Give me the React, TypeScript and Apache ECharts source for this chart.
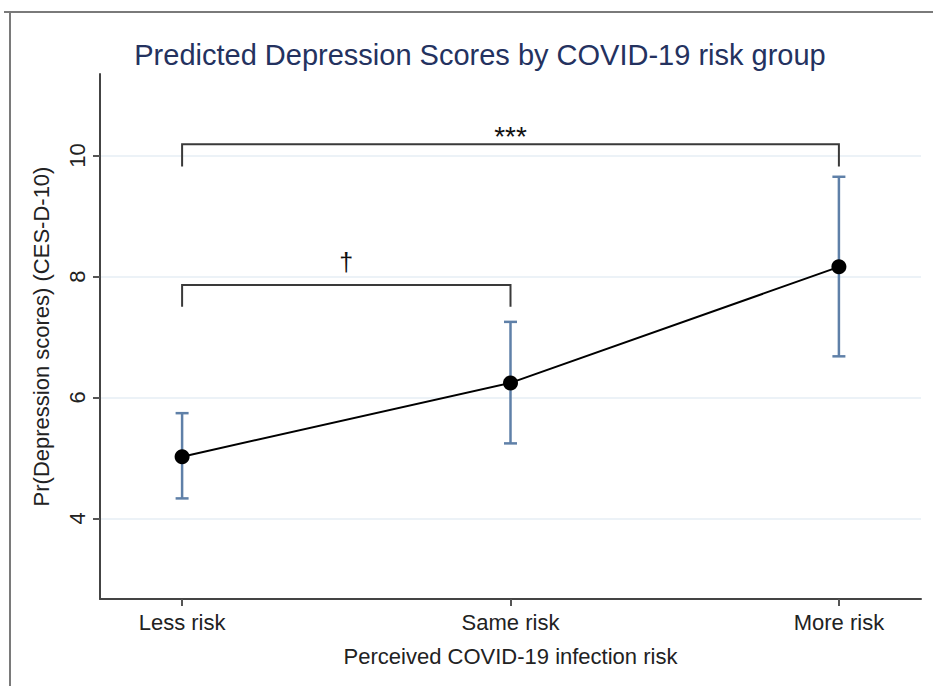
import React, { useEffect, useRef } from "react";
import * as echarts from "echarts";

const categories = ["Less risk", "Same risk", "More risk"];
const categoryPositions = [1, 2, 3];
const predicted = [5.02, 6.24, 8.16];
const ciLower = [4.33, 5.24, 6.68];
const ciUpper = [5.74, 7.25, 9.65];
const yTicks = [4, 6, 8, 10];
// brackets: [fromX, toX, barY, legY]
const brackets = [
  [1, 3, 10.19, 9.82],
  [1, 2, 7.86, 7.5],
];
const bracketLabels = ["***", "\u2020"];
const bracketLabelY = [10.31, 8.235];

const FONT = '"Liberation Sans", Arial, Helvetica, sans-serif';

export default function App() {
  const ref = useRef<HTMLDivElement>(null);
  useEffect(() => {
    if (!ref.current) return;
    const chart = echarts.init(ref.current, undefined, { renderer: "svg" });
    const errData = categoryPositions.map((x, i) => [x, ciLower[i], ciUpper[i]]);
    const bracketData = brackets.map((b, i) => [b[0], b[1], b[2], b[3], bracketLabelY[i], i]);
    const errColor = "#5f80a8";
    chart.setOption({
      animation: false,
      backgroundColor: "#ffffff",
      textStyle: { fontFamily: FONT },
      title: {
        text: "Predicted Depression Scores by COVID-19 risk group",
        left: 475,
        top: 35,
        textAlign: "center",
        textStyle: { fontFamily: FONT, fontSize: 29, fontWeight: "normal", color: "#24325f" },
      },
      graphic: [
        { type: "line", shape: { x1: 4, y1: 12, x2: 933, y2: 12 }, style: { stroke: "#7a7a7a", lineWidth: 2 } },
        { type: "line", shape: { x1: 10, y1: 12, x2: 10, y2: 686 }, style: { stroke: "#7a7a7a", lineWidth: 2 } },
      ],
      grid: { left: 100, width: 821, top: 74, height: 525, containLabel: false },
      xAxis: {
        type: "value",
        min: 0.75,
        max: 3.25,
        name: "Perceived COVID-19 infection risk",
        nameLocation: "middle",
        nameGap: 46,
        nameTextStyle: { fontFamily: FONT, fontSize: 22, color: "#222" },
        axisLine: { show: true, onZero: false, lineStyle: { color: "#444", width: 2 } },
        axisTick: { show: true, length: 7, customValues: categoryPositions, lineStyle: { color: "#555", width: 2 } },
        axisLabel: {
          customValues: categoryPositions,
          formatter: (v: number) => categories[Math.round(v) - 1] ?? "",
          fontFamily: FONT,
          fontSize: 22,
          color: "#222",
          margin: 12,
        },
        splitLine: { show: false },
      },
      yAxis: {
        type: "value",
        min: 2.666,
        max: 11.35,
        name: "Pr(Depression scores) (CES-D-10)",
        nameLocation: "middle",
        nameGap: 48,
        nameRotate: 90,
        nameTextStyle: { fontFamily: FONT, fontSize: 22, color: "#222" },
        axisLine: { show: true, onZero: false, lineStyle: { color: "#444", width: 2 } },
        axisTick: { show: true, length: 7, customValues: yTicks, lineStyle: { color: "#555", width: 2 } },
        axisLabel: {
          customValues: yTicks,
          rotate: 90,
          fontFamily: FONT,
          fontSize: 22,
          color: "#222",
          margin: 12,
        },
        splitLine: { show: false },
      },
      series: [
        {
          type: "line",
          silent: true,
          data: [],
          z: 0,
          zlevel: 0,
          markLine: {
            silent: true,
            symbol: "none",
            z: 0,
            label: { show: false },
            lineStyle: { color: "#e6eef4", width: 1.5, type: "solid" },
            data: yTicks.map((v) => ({ yAxis: v })),
          },
        },
        {
          type: "custom",
          name: "brackets",
          silent: true,
          data: bracketData,
          encode: { x: [0, 1], y: [2, 3] },
          renderItem: (params: any, api: any) => {
            const x1 = api.value(0), x2 = api.value(1), yb = api.value(2), yl = api.value(3), ly = api.value(4);
            const idx = api.value(5);
            const p1 = api.coord([x1, yl]);
            const p2 = api.coord([x1, yb]);
            const p3 = api.coord([x2, yb]);
            const p4 = api.coord([x2, yl]);
            const lp = api.coord([(x1 + x2) / 2, ly]);
            const isDagger = bracketLabels[idx] === "\u2020";
            return {
              type: "group",
              children: [
                {
                  type: "polyline",
                  shape: { points: [p1, p2, p3, p4] },
                  style: { stroke: "#3a3a3a", lineWidth: 2, fill: "none" },
                },
                {
                  type: "text",
                  x: lp[0],
                  y: lp[1],
                  style: {
                    text: bracketLabels[idx],
                    fontFamily: FONT,
                    fontSize: isDagger ? 25 : 28,
                    fill: "#111",
                    align: "center",
                    verticalAlign: "middle",
                  },
                },
              ],
            };
          },
          z: 10,
        },
        {
          type: "custom",
          name: "ci",
          silent: true,
          data: errData,
          encode: { x: 0, y: [1, 2] },
          renderItem: (params: any, api: any) => {
            const x = api.value(0), lo = api.value(1), hi = api.value(2);
            const a = api.coord([x, hi]);
            const b = api.coord([x, lo]);
            const cap = 6.5;
            const st = { stroke: errColor, lineWidth: 2.5 };
            return {
              type: "group",
              children: [
                { type: "line", shape: { x1: a[0], y1: a[1], x2: b[0], y2: b[1] }, style: st },
                { type: "line", shape: { x1: a[0] - cap, y1: a[1], x2: a[0] + cap, y2: a[1] }, style: st },
                { type: "line", shape: { x1: b[0] - cap, y1: b[1], x2: b[0] + cap, y2: b[1] }, style: st },
              ],
            };
          },
          z: 11,
        },
        {
          type: "line",
          name: "Predicted",
          data: categoryPositions.map((x, i) => [x, predicted[i]]),
          symbol: "circle",
          symbolSize: 15,
          itemStyle: { color: "#000" },
          lineStyle: { color: "#000", width: 2 },
          z: 12,
        },
      ],
    });
    return () => chart.dispose();
  }, []);
  return <div ref={ref} style={{ width: 933, height: 686, position: "absolute", left: 0, top: 0 }} />;
}
